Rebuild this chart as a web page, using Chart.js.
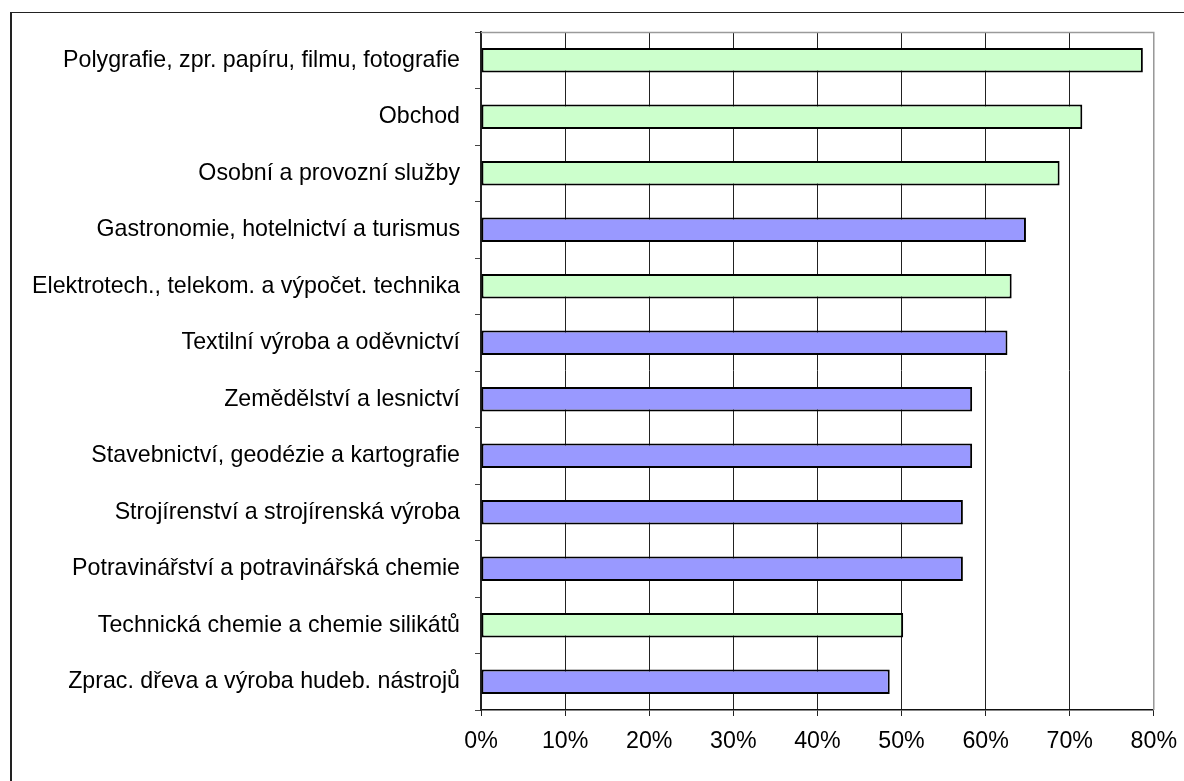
<!DOCTYPE html>
<html>
<head>
<meta charset="utf-8">
<script src="https://cdn.jsdelivr.net/npm/chart.js@4.4.0/dist/chart.umd.min.js"></script>
<style>
  html, body { margin: 0; padding: 0; background: #fff; overflow: hidden; }
  #frame {
    position: absolute; left: 10px; top: 12px;
    width: 1300px; height: 900px;
    border-left: 2px solid #222; border-top: 1.5px solid #222;
  }
  #wrap { position: absolute; left: 0; top: 0; width: 1189px; height: 781px; }
</style>
</head>
<body>
<div id="frame"></div>
<div id="wrap"><canvas id="myChart" width="1189" height="781"></canvas></div>
<script>
// obory a podíly (v %)
const categories = [
    'Polygrafie, zpr. papíru, filmu, fotografie',
    'Obchod',
    'Osobní a provozní služby',
    'Gastronomie, hotelnictví a turismus',
    'Elektrotech., telekom. a výpočet. technika',
    'Textilní výroba a oděvnictví',
    'Zemědělství a lesnictví',
    'Stavebnictví, geodézie a kartografie',
    'Strojírenství a strojírenská výroba',
    'Potravinářství a potravinářská chemie',
    'Technická chemie a chemie silikátů',
    'Zprac. dřeva a výroba hudeb. nástrojů'
];
const values = [78.7, 71.5, 68.8, 64.8, 63.1, 62.6, 58.4, 58.4, 57.3, 57.3, 50.2, 48.6];
// g = zelená, b = modrá
const groups = ['g', 'g', 'g', 'b', 'g', 'b', 'b', 'b', 'b', 'b', 'g', 'b'];
const xTicks = [0, 10, 20, 30, 40, 50, 60, 70, 80];

const colorMap = { g: '#CCFFCC', b: '#9999FF' };
const FONT = { family: '"Liberation Sans", Arial, sans-serif', size: 23.2 };

// gray top/right border of the plot area
const plotFrame = {
    id: 'plotFrame',
    afterDraw(chart) {
        const a = chart.chartArea;
        const c = chart.ctx;
        c.save();
        c.strokeStyle = '#9a9a9a';
        c.lineWidth = 1.5;
        c.beginPath();
        c.moveTo(a.left, a.top + 0.5);
        c.lineTo(a.right, a.top + 0.5);
        c.lineTo(a.right, a.bottom);
        c.stroke();
        c.restore();
    }
};

new Chart(document.getElementById('myChart'), {
    type: 'bar',
    data: {
        labels: categories,
        datasets: [{
            data: values,
            backgroundColor: groups.map(g => colorMap[g]),
            borderColor: '#000',
            borderWidth: 2,
            borderSkipped: false,
            categoryPercentage: 1,
            barPercentage: 0.43
        }]
    },
    options: {
        indexAxis: 'y',
        responsive: false,
        animation: false,
        layout: { padding: { top: 32, right: 26, left: 0, bottom: 0 } },
        plugins: {
            legend: { display: false },
            tooltip: { enabled: false },
            title: { display: false }
        },
        scales: {
            x: {
                min: 0,
                max: 80,
                afterFit(scale) { scale.height = 71; },
                afterBuildTicks(scale) { scale.ticks = xTicks.map(v => ({ value: v })); },
                ticks: {
                    color: '#000',
                    font: FONT,
                    padding: 12,
                    maxRotation: 0,
                    callback: v => v + '%'
                },
                grid: {
                    color: ctx => ctx.tick && ctx.tick.value === 80 ? '#9a9a9a' : '#222',
                    lineWidth: 1,
                    drawTicks: true,
                    tickLength: 6,
                    tickColor: '#222'
                },
                border: { color: '#111', width: 1.5 }
            },
            y: {
                afterFit(scale) { scale.width = 481; },
                ticks: {
                    color: '#000',
                    font: FONT,
                    padding: 15,
                    autoSkip: false
                },
                grid: {
                    drawOnChartArea: false,
                    drawTicks: true,
                    tickLength: 6,
                    tickColor: '#444',
                    offset: true
                },
                border: { color: '#222', width: 2 }
            }
        }
    },
    plugins: [plotFrame]
});
</script>
</body>
</html>
